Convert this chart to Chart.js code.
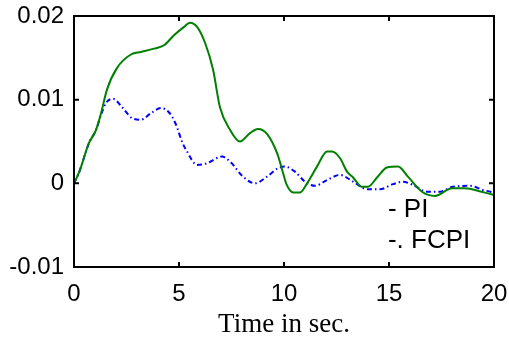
<!DOCTYPE html>
<html>
<head>
<meta charset="utf-8">
<script src="https://cdn.jsdelivr.net/npm/chart.js@4/dist/chart.umd.min.js"></script>
<style>
  html, body { margin: 0; padding: 0; background: #fff; }
  #wrap { width: 509px; height: 351px; }
</style>
</head>
<body>
<div id="wrap"><canvas id="respChart" width="509" height="351"></canvas></div>
<script>
// Data (time in sec, response)
const piTime = [0, 0.24, 0.71, 1.05, 1.29, 1.57, 2.05, 2.71, 3.19, 3.81, 4.29, 4.76, 5.24, 5.52, 5.86,
  6.24, 6.62, 6.95, 7.43, 7.9, 8.38, 8.76, 9.19, 9.67, 9.95, 10.1, 10.45, 10.75, 11.1, 11.57, 12.05,
  12.29, 12.67, 13.0, 13.29, 13.71, 14.0, 14.43, 14.9, 15.43, 15.9, 16.57, 17.19, 18.0, 18.6, 19.4, 20];
const piValues = [0, 0.0013, 0.0048, 0.0064, 0.0084, 0.0112, 0.0138, 0.0154, 0.0157, 0.0161, 0.0165, 0.0177, 0.0187, 0.0192, 0.0187,
  0.0168, 0.0136, 0.0091, 0.0064, 0.0050, 0.0060, 0.0065, 0.0059, 0.0036, 0.0013, 0.0000, -0.0011, -0.0011, 0.0000, 0.0020, 0.0038,
  0.0038, 0.0030, 0.0014, 0.0007, -0.0004, -0.0004, 0.0007, 0.0019, 0.0020, 0.0008, -0.0010, -0.0015, -0.0006, -0.0006, -0.0010, -0.0014];

const fcpiTime = [0, 0.24, 0.71, 1.05, 1.29, 1.52, 1.86, 2.29, 2.76, 3.19, 3.67, 4.14, 4.52, 4.86, 5.14, 5.38,
  5.86, 6.33, 7.05, 7.43, 8.05, 8.62, 9.19, 9.71, 10.05, 10.52, 11.0, 11.48, 12.05, 12.67, 13.29, 13.95,
  14.57, 15.19, 15.67, 16.14, 16.81, 17.43, 18.05, 18.86, 19.48, 20];
const fcpiValues = [0, 0.0013, 0.0048, 0.0064, 0.0082, 0.0096, 0.0101, 0.0091, 0.0078, 0.0076, 0.0084, 0.0090, 0.0085, 0.0070, 0.0050, 0.0038,
  0.0022, 0.0024, 0.0032, 0.0026, 0.0008, 0.0000, 0.0008, 0.0018, 0.0020, 0.0014, 0.0002, -0.0003, 0.0004, 0.0010, 0.0002, -0.0007,
  -0.0007, -0.0001, 0.0002, -0.0002, -0.0010, -0.0010, -0.0004, -0.0003, -0.0008, -0.0011];

const xTicks = [0, 5, 10, 15, 20];
const yTicks = [-0.01, 0, 0.01, 0.02];
const legendLabels = ['- PI', '-. FCPI'];
const xTitle = 'Time in sec.';

const sansFont = '"Liberation Sans", Arial, sans-serif';

function toPoints(ts, vs) {
  return ts.map((t, i) => ({ x: t, y: vs[i] }));
}

// Box round the plot with inward ticks, and the text legend inside it
const framePlugin = {
  id: 'frame',
  afterDatasetsDraw(chart) {
    const ctx = chart.ctx;
    const a = chart.chartArea;
    const sx = chart.scales.x, sy = chart.scales.y;
    ctx.save();
    ctx.strokeStyle = '#000';
    ctx.lineWidth = 2;
    ctx.strokeRect(a.left, a.top, a.right - a.left, a.bottom - a.top);
    ctx.beginPath();
    xTicks.forEach(v => {
      const px = sx.getPixelForValue(v);
      ctx.moveTo(px, a.bottom); ctx.lineTo(px, a.bottom - 5);
      ctx.moveTo(px, a.top); ctx.lineTo(px, a.top + 5);
    });
    yTicks.forEach(v => {
      const py = sy.getPixelForValue(v);
      ctx.moveTo(a.left, py); ctx.lineTo(a.left + 5, py);
      ctx.moveTo(a.right, py); ctx.lineTo(a.right - 5, py);
    });
    ctx.stroke();

    // legend as plain text
    ctx.fillStyle = '#000';
    ctx.font = '26px ' + sansFont;
    ctx.textAlign = 'left';
    ctx.textBaseline = 'alphabetic';
    ctx.fillText(legendLabels[0], sx.getPixelForValue(14.95), sy.getPixelForValue(-0.0040));
    ctx.fillText(legendLabels[1], sx.getPixelForValue(14.95), sy.getPixelForValue(-0.0077));
    ctx.restore();
  }
};

const ctx = document.getElementById('respChart').getContext('2d');
const respChart = new Chart(ctx, {
  type: 'line',
  data: {
    datasets: [
      {
        label: 'PI',
        data: toPoints(piTime, piValues),
        borderColor: '#008000',
        borderWidth: 2,
        pointRadius: 0,
        cubicInterpolationMode: 'monotone'
      },
      {
        label: 'FCPI',
        data: toPoints(fcpiTime, fcpiValues),
        borderColor: '#0000ff',
        borderWidth: 2,
        borderDash: [5, 3, 1.5, 3],
        pointRadius: 0,
        cubicInterpolationMode: 'monotone'
      }
    ]
  },
  options: {
    responsive: false,
    animation: false,
    layout: { padding: { left: 0, right: 15, top: 16, bottom: 0 } },
    plugins: {
      legend: { display: false },
      tooltip: { enabled: false }
    },
    scales: {
      x: {
        type: 'linear',
        min: 0,
        max: 20,
        afterFit: s => { s.height = 84; s.paddingLeft = 0; s.paddingRight = 0; },
        afterBuildTicks: s => { s.ticks = xTicks.map(v => ({ value: v })); },
        grid: { display: false, drawTicks: false },
        border: { display: false },
        ticks: {
          color: '#000',
          padding: 13,
          maxRotation: 0,
          font: { family: sansFont, size: 24 }
        },
        title: {
          display: true,
          text: xTitle,
          color: '#000',
          padding: { top: 0, bottom: 10 },
          font: { family: '"Liberation Serif", "Times New Roman", serif', size: 27 }
        }
      },
      y: {
        type: 'linear',
        min: -0.01,
        max: 0.02,
        afterFit: s => { s.width = 74; s.paddingTop = 0; s.paddingBottom = 0; },
        afterBuildTicks: s => { s.ticks = yTicks.map(v => ({ value: v })); },
        grid: { display: false, drawTicks: false },
        border: { display: false },
        ticks: {
          color: '#000',
          padding: 10,
          font: { family: sansFont, size: 24 },
          callback: v => String(Math.round(v * 100) / 100)
        }
      }
    }
  },
  plugins: [framePlugin]
});
</script>
</body>
</html>
